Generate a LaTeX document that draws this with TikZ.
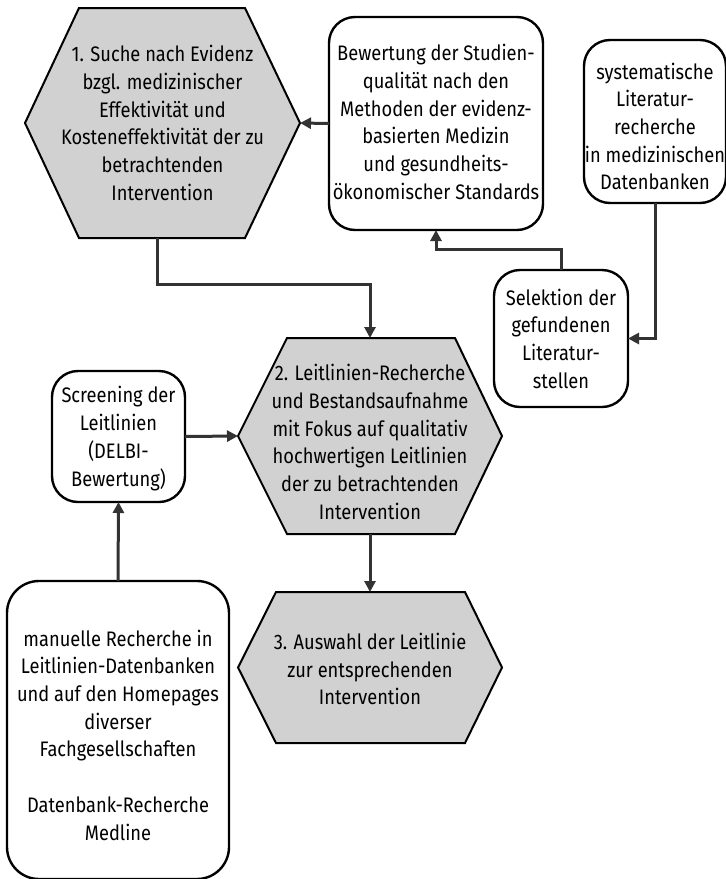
\documentclass[tikz,border=0pt]{standalone}
\usepackage{fontspec}
\setmainfont[FakeStretch=0.87]{Fira Sans}
\usetikzlibrary{arrows.meta,calc,backgrounds}
\definecolor{hexgray}{HTML}{D1D1D1}
\definecolor{linegray}{HTML}{333333}
\begin{document}
\begin{tikzpicture}[x=1pt,y=-1pt,
  txt/.style={font=\fontsize{21}{27.7}\selectfont, align=center, text=black, inner sep=0pt},
  frame/.style={inner sep=0pt, outer sep=0pt},
  box/.style={frame, draw=black, line width=2.4pt, rounded corners=26pt, fill=white},
  hexfill/.style={draw=black, line width=2pt, fill=hexgray, line join=miter},
  conn/.style={draw=linegray, line width=3pt, -{Triangle[length=11pt,width=11pt]}},
  ]
\useasboundingbox (0,0) rectangle (726,879);

% hexagon shapes (named nodes sized to their bounding boxes)
\node[frame, minimum width=275pt, minimum height=230pt] (h1) at (162.5,123) {};
\node[frame, minimum width=264pt, minimum height=196pt] (h2) at (370,436) {};
\node[frame, minimum width=264pt, minimum height=151pt] (h3) at (370,667.5) {};

\begin{scope}[on background layer]
\draw[hexfill] (h1.west) -- ([xshift=54pt]h1.north west) -- ([xshift=-55pt]h1.north east) -- (h1.east) -- ([xshift=-55pt]h1.south east) -- ([xshift=54pt]h1.south west) -- cycle;
\draw[hexfill] (h2.west) -- ([xshift=49pt]h2.north west) -- ([xshift=-47pt]h2.north east) -- (h2.east) -- ([xshift=-47pt]h2.south east) -- ([xshift=49pt]h2.south west) -- cycle;
\draw[hexfill] (h3.west) -- ([xshift=38pt]h3.north west) -- ([xshift=-37pt]h3.north east) -- (h3.east) -- ([xshift=-37pt]h3.south east) -- ([xshift=38pt]h3.south west) -- cycle;
\end{scope}

\node[txt] (t1) at (162.5,123) {1. Suche nach Evidenz\\bzgl. medizinischer\\Effektivität und\\Kosteneffektivität der zu\\betrachtenden\\Intervention};
\node[txt] (t2) at (370,442) {2. Leitlinien-Recherche\\und Bestandsaufnahme\\mit Fokus auf qualitativ\\hochwertigen Leitlinien\\der zu betrachtenden\\Intervention};
\node[txt] (t3) at (370,669) {3. Auswahl der Leitlinie\\zur entsprechenden\\Intervention};

% rounded boxes
\node[box, minimum width=214pt, minimum height=213pt] (bew) at (436,123.5) {};
\node[txt] (tbew) at (436,122) {Bewertung der Studien-\\qualität nach den\\Methoden der evidenz-\\basierten Medizin\\und gesundheits-\\ökonomischer Standards};

\node[box, minimum width=142pt, minimum height=163pt] (sys) at (655,121.5) {};
\node[txt] (tsys) at (655,126.5) {systematische\\Literatur-\\recherche\\in medizinischen\\Datenbanken};

\node[box, minimum width=134pt, minimum height=137pt] (sel) at (561,338.5) {};
\node[txt] (tsel) at (561,338.5) {Selektion der\\gefundenen\\Literatur-\\stellen};

\node[box, minimum width=133pt, minimum height=131pt] (scr) at (118.5,436.5) {};
\node[txt] (tscr) at (118.5,438.5) {Screening der\\Leitlinien\\(DELBI-\\Bewertung)};

\node[box, minimum width=222pt, minimum height=298pt, rounded corners=32pt] (man) at (118,730) {};
\node[txt] (tman) at (118,735) {manuelle Recherche in\\Leitlinien-Datenbanken\\und auf den Homepages\\diverser\\Fachgesellschaften\\[27.7pt]Datenbank-Recherche\\Medline};

% connectors
\draw[conn] (bew.west) -- (h1.east);
\draw[conn] (sel.north) -- ++(0,-21) -| (bew.south);
\draw[conn] (sys.south) |- (sel.east);
\draw[conn] ([xshift=-5pt]h1.south) -- ++(0,46) -| (h2.north);
\draw[conn] (scr.east) -- (h2.west);
\draw[conn] (man.north) -- (scr.south);
\draw[conn] (h2.south) -- (h3.north);
\end{tikzpicture}
\end{document}
